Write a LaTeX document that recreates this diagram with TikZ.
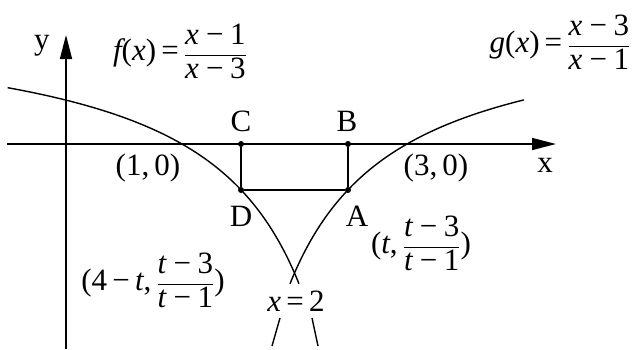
\documentclass[tikz,border=0pt]{standalone}
\usepackage{fontspec}
\setmainfont{Liberation Serif}
\usetikzlibrary{arrows.meta}
\newcommand\iv[1]{\mbox{\itshape #1}}
\newcommand\ufr[2]{\ensuremath{\displaystyle\frac{\mbox{#1}}{\mbox{#2}}}}
\begin{document}
\begin{tikzpicture}[x=1pt,y=-1pt,
  lbl/.style={font=\fontsize{31}{34}\selectfont, inner sep=0pt},
  ax/.style={line width=1.5pt, -{Triangle[length=24pt,width=12pt]}},
  crv/.style={line width=1.4pt},
  dot/.style={circle, fill, inner sep=0pt, minimum size=6pt}]
\useasboundingbox (0,0) rectangle (640,349);
% axes
\coordinate (xs) at (7,144); \coordinate (xe) at (556,144);
\coordinate (ys) at (66,349); \coordinate (ye) at (66,35);
\draw[ax] (xs) -- (xe);
\draw[ax] (ys) -- (ye);
% curves
\draw[crv] plot[domain=-0.55:2.04, samples=90, smooth] ({69.5+112.5*\x},{144-129*(\x-1)/(\x-3)});
\draw[crv] plot[domain=1.96:4.04, samples=90, smooth] ({69.5+112.5*\x},{144-129*(\x-3)/(\x-1)});
% points
\node[dot] (C) at (241,144) {};
\node[dot] (B) at (348,144) {};
\node[dot] (D) at (241,190) {};
\node[dot] (A) at (348,190) {};
\draw[crv] (C) -- (D);
\draw[crv] (B) -- (A);
\draw[crv] (D) -- (A);
% short strokes
\coordinate (l1) at (280,318); \coordinate (l2) at (272,346);
\coordinate (r1) at (312,318); \coordinate (r2) at (318,346);
\draw[crv] (l1) -- (l2);
\draw[crv] (r1) -- (r2);
% labels
\node[lbl] (ylab) at (42,46) {y};
\node[lbl] (xlab) at (545,165) {x};
\node[lbl] (flab) at (180,51) {\iv{f}(\iv{x})\,=\,\ufr{\itshape x\,−\,\upshape 1}{\itshape x\,−\,\upshape 3}};
\node[lbl] (glab) at (560,42) {\iv{g}(\iv{x})\,=\,\ufr{\itshape x\,−\,\upshape 3}{\itshape x\,−\,\upshape 1}};
\node[lbl] (Clab) at (241,121) {C};
\node[lbl] (Blab) at (347,121) {B};
\node[lbl] (Dlab) at (241,216) {D};
\node[lbl] (Alab) at (357,216) {A};
\node[lbl] (p10) at (148,168) {(1,\,0)};
\node[lbl] (p30) at (436,168) {(3,\,0)};
\node[lbl] (x2) at (296,301) {\iv{x}\,=\,2};
\node[lbl] (At) at (421,243) {(\iv{t},\,\ufr{\itshape t\,−\,\upshape 3}{\itshape t\,−\,\upshape 1})};
\node[lbl] (Dt) at (153,280) {(4\,−\,\iv{t},\,\ufr{\itshape t\,−\,\upshape 3}{\itshape t\,−\,\upshape 1})};
\end{tikzpicture}
\end{document}
